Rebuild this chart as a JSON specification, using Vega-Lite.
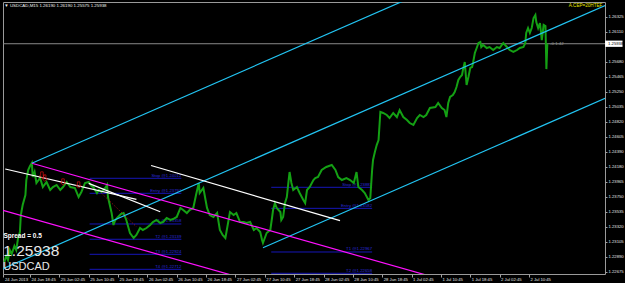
{
  "$schema": "https://vega.github.io/schema/vega-lite/v6.json",
  "width": 602,
  "height": 272,
  "autosize": "none",
  "padding": {"left": 3, "top": 2, "right": 20, "bottom": 9},
  "background": "#000000",
  "config": {
    "view": {"stroke": "#9a9a9a", "strokeWidth": 1},
    "font": "Liberation Sans"
  },
  "resolve": {"axis": {"x": "independent", "y": "independent"}},
  "datasets": {
    "price": [
      {"bar": 4, "price": 1.22814}, {"bar": 6, "price": 1.22900}, {"bar": 8, "price": 1.22842}, {"bar": 10, "price": 1.22985},
      {"bar": 12, "price": 1.22928}, {"bar": 15, "price": 1.23043}, {"bar": 17, "price": 1.22985}, {"bar": 19, "price": 1.23157},
      {"bar": 21, "price": 1.23243}, {"bar": 22, "price": 1.23486}, {"bar": 24, "price": 1.23630}, {"bar": 27, "price": 1.23773},
      {"bar": 28, "price": 1.23987}, {"bar": 30, "price": 1.24131}, {"bar": 32, "price": 1.24188}, {"bar": 34, "price": 1.24231},
      {"bar": 35, "price": 1.24030}, {"bar": 37, "price": 1.24102}, {"bar": 39, "price": 1.23945}, {"bar": 43, "price": 1.24016},
      {"bar": 46, "price": 1.23887}, {"bar": 50, "price": 1.23959}, {"bar": 54, "price": 1.23844}, {"bar": 57, "price": 1.23887},
      {"bar": 61, "price": 1.23916}, {"bar": 65, "price": 1.23844}, {"bar": 68, "price": 1.23887}, {"bar": 72, "price": 1.23959},
      {"bar": 76, "price": 1.23887}, {"bar": 81, "price": 1.23873}, {"bar": 85, "price": 1.23744}, {"bar": 88, "price": 1.23816},
      {"bar": 92, "price": 1.23945}, {"bar": 96, "price": 1.23959}, {"bar": 99, "price": 1.23902}, {"bar": 101, "price": 1.23887},
      {"bar": 105, "price": 1.23801}, {"bar": 107, "price": 1.23844}, {"bar": 110, "price": 1.23816}, {"bar": 114, "price": 1.23873},
      {"bar": 116, "price": 1.23916}, {"bar": 117, "price": 1.23744}, {"bar": 119, "price": 1.23630}, {"bar": 121, "price": 1.23515},
      {"bar": 123, "price": 1.23343}, {"bar": 125, "price": 1.23415}, {"bar": 128, "price": 1.23458}, {"bar": 131, "price": 1.23501},
      {"bar": 134, "price": 1.23515}, {"bar": 137, "price": 1.23415}, {"bar": 141, "price": 1.23229}, {"bar": 145, "price": 1.23157},
      {"bar": 148, "price": 1.23200}, {"bar": 152, "price": 1.23300}, {"bar": 155, "price": 1.23272}, {"bar": 159, "price": 1.23300},
      {"bar": 163, "price": 1.23343}, {"bar": 166, "price": 1.23386}, {"bar": 170, "price": 1.23415}, {"bar": 174, "price": 1.23372},
      {"bar": 177, "price": 1.23386}, {"bar": 181, "price": 1.23444}, {"bar": 185, "price": 1.23415}, {"bar": 188, "price": 1.23429},
      {"bar": 192, "price": 1.23458}, {"bar": 196, "price": 1.23587}, {"bar": 199, "price": 1.23558}, {"bar": 203, "price": 1.23515},
      {"bar": 206, "price": 1.23558}, {"bar": 210, "price": 1.23587}, {"bar": 213, "price": 1.23773}, {"bar": 216, "price": 1.23945},
      {"bar": 217, "price": 1.23801}, {"bar": 221, "price": 1.23873}, {"bar": 225, "price": 1.23587}, {"bar": 228, "price": 1.23486},
      {"bar": 232, "price": 1.23458}, {"bar": 236, "price": 1.23515}, {"bar": 239, "price": 1.23272}, {"bar": 242, "price": 1.23200},
      {"bar": 245, "price": 1.23157}, {"bar": 246, "price": 1.23229}, {"bar": 250, "price": 1.23529}, {"bar": 254, "price": 1.23486},
      {"bar": 257, "price": 1.23515}, {"bar": 261, "price": 1.23386}, {"bar": 265, "price": 1.23386}, {"bar": 268, "price": 1.23372},
      {"bar": 272, "price": 1.23386}, {"bar": 276, "price": 1.23272}, {"bar": 279, "price": 1.23300}, {"bar": 283, "price": 1.23243},
      {"bar": 285, "price": 1.23129}, {"bar": 286, "price": 1.23086}, {"bar": 290, "price": 1.23229}, {"bar": 294, "price": 1.23272},
      {"bar": 296, "price": 1.23458}, {"bar": 297, "price": 1.23558}, {"bar": 299, "price": 1.23658}, {"bar": 301, "price": 1.23587},
      {"bar": 305, "price": 1.23529}, {"bar": 306, "price": 1.23415}, {"bar": 308, "price": 1.23458}, {"bar": 310, "price": 1.23658},
      {"bar": 312, "price": 1.23744}, {"bar": 314, "price": 1.23987}, {"bar": 315, "price": 1.24102}, {"bar": 317, "price": 1.23945},
      {"bar": 319, "price": 1.23844}, {"bar": 323, "price": 1.23887}, {"bar": 326, "price": 1.23801}, {"bar": 330, "price": 1.23701},
      {"bar": 332, "price": 1.23658}, {"bar": 334, "price": 1.23844}, {"bar": 337, "price": 1.23887}, {"bar": 341, "price": 1.23987},
      {"bar": 343, "price": 1.24016}, {"bar": 346, "price": 1.24030}, {"bar": 350, "price": 1.24131}, {"bar": 355, "price": 1.24174},
      {"bar": 361, "price": 1.24202}, {"bar": 365, "price": 1.24131}, {"bar": 368, "price": 1.24030}, {"bar": 372, "price": 1.23987},
      {"bar": 377, "price": 1.24016}, {"bar": 381, "price": 1.23987}, {"bar": 385, "price": 1.23945}, {"bar": 388, "price": 1.24102},
      {"bar": 390, "price": 1.23887}, {"bar": 394, "price": 1.23844}, {"bar": 397, "price": 1.23801}, {"bar": 401, "price": 1.23701},
      {"bar": 403, "price": 1.23730}, {"bar": 405, "price": 1.24131}, {"bar": 406, "price": 1.24274}, {"bar": 408, "price": 1.24388},
      {"bar": 410, "price": 1.24488}, {"bar": 412, "price": 1.24560}, {"bar": 414, "price": 1.24961}, {"bar": 417, "price": 1.24947},
      {"bar": 421, "price": 1.24918}, {"bar": 424, "price": 1.24875}, {"bar": 428, "price": 1.24947}, {"bar": 432, "price": 1.24889},
      {"bar": 435, "price": 1.24989}, {"bar": 439, "price": 1.24889}, {"bar": 443, "price": 1.24846}, {"bar": 446, "price": 1.24803},
      {"bar": 450, "price": 1.24775}, {"bar": 454, "price": 1.24875}, {"bar": 457, "price": 1.24918}, {"bar": 461, "price": 1.24889},
      {"bar": 464, "price": 1.24918}, {"bar": 468, "price": 1.25018}, {"bar": 474, "price": 1.25032}, {"bar": 477, "price": 1.25090},
      {"bar": 481, "price": 1.25018}, {"bar": 484, "price": 1.24989}, {"bar": 486, "price": 1.24889}, {"bar": 488, "price": 1.25090},
      {"bar": 490, "price": 1.25176}, {"bar": 493, "price": 1.25204}, {"bar": 495, "price": 1.25247}, {"bar": 497, "price": 1.25319},
      {"bar": 499, "price": 1.25419}, {"bar": 501, "price": 1.25462}, {"bar": 503, "price": 1.25490}, {"bar": 504, "price": 1.25562},
      {"bar": 506, "price": 1.25677}, {"bar": 508, "price": 1.25347}, {"bar": 510, "price": 1.25462}, {"bar": 512, "price": 1.25591},
      {"bar": 514, "price": 1.25605}, {"bar": 515, "price": 1.25662}, {"bar": 517, "price": 1.25805}, {"bar": 519, "price": 1.25877},
      {"bar": 521, "price": 1.25949}, {"bar": 523, "price": 1.25963}, {"bar": 524, "price": 1.25891}, {"bar": 526, "price": 1.25920},
      {"bar": 530, "price": 1.25877}, {"bar": 533, "price": 1.25891}, {"bar": 537, "price": 1.25848}, {"bar": 541, "price": 1.25891},
      {"bar": 544, "price": 1.25877}, {"bar": 548, "price": 1.25949}, {"bar": 552, "price": 1.25891}, {"bar": 555, "price": 1.25848},
      {"bar": 559, "price": 1.25820}, {"bar": 563, "price": 1.25848}, {"bar": 566, "price": 1.25877}, {"bar": 570, "price": 1.25891},
      {"bar": 572, "price": 1.25949}, {"bar": 573, "price": 1.26092}, {"bar": 575, "price": 1.26163}, {"bar": 577, "price": 1.26092},
      {"bar": 579, "price": 1.26163}, {"bar": 581, "price": 1.26306}, {"bar": 583, "price": 1.26349}, {"bar": 584, "price": 1.26249},
      {"bar": 586, "price": 1.26163}, {"bar": 588, "price": 1.26235}, {"bar": 590, "price": 1.25991}, {"bar": 592, "price": 1.26206},
      {"bar": 594, "price": 1.26190}, {"bar": 595, "price": 1.25575}, {"bar": 596, "price": 1.25938}
    ],
    "segments": [
      {"kind": "channel", "bar": 34, "price": 1.24227, "bar2": 659, "price2": 1.27812},
      {"kind": "channel", "bar": 2.56, "price": 1.22718, "bar2": 659, "price2": 1.26484},
      {"kind": "channel", "bar": 286, "price": 1.23018, "bar2": 659, "price2": 1.25156},
      {"kind": "fan", "bar": 34, "price": 1.24227, "bar2": 468, "price2": 1.22612},
      {"kind": "fan", "bar": 2.56, "price": 1.23552, "bar2": 261, "price2": 1.22592},
      {"kind": "trend", "bar": 5, "price": 1.24145, "bar2": 148, "price2": 1.23711},
      {"kind": "trend", "bar": 96, "price": 1.23940, "bar2": 174, "price2": 1.23534},
      {"kind": "trend", "bar": 164, "price": 1.24195, "bar2": 370, "price2": 1.23405}
    ],
    "signal": [
      {"bar": 110, "price": 1.23797, "bar2": 148, "price2": 1.23319}
    ],
    "levels": [
      {"bar": 97, "bar2": 197, "price": 1.24012, "label": "Stop @1.24012"},
      {"bar": 97, "bar2": 197, "price": 1.23797, "label": "Entry @1.23797"},
      {"bar": 97, "bar2": 197, "price": 1.23358, "label": "T1 @1.23358"},
      {"bar": 97, "bar2": 197, "price": 1.23139, "label": "T2 @1.23139"},
      {"bar": 97, "bar2": 197, "price": 1.22924, "label": "T3 @1.22924"},
      {"bar": 97, "bar2": 197, "price": 1.22709, "label": "T4 @1.22712"},
      {"bar": 295, "bar2": 405, "price": 1.23883, "label": "Stop @1.23883"},
      {"bar": 295, "bar2": 405, "price": 1.23582, "label": "Entry @1.23582"},
      {"bar": 295, "bar2": 405, "price": 1.22957, "label": "T1 @1.22967"},
      {"bar": 295, "bar2": 405, "price": 1.22652, "label": "T2 @1.22658"}
    ],
    "notes": [
      {"role": "header", "bar": 4, "price": 1.26482, "text": "▼ USDCAD,M15  1.26190 1.26190 1.25575 1.25938"},
      {"role": "ea", "bar": 656, "price": 1.26482, "text": "A.CEP=20HTEF"},
      {"role": "timer", "bar": 599, "price": 1.25938, "text": "-0:1:42"},
      {"role": "spread", "bar": 3, "price": 1.23190, "text": "Spread = 0.5"},
      {"role": "big", "bar": 2.8, "price": 1.22971, "text": "1.25938"},
      {"role": "symbol", "bar": 2.8, "price": 1.22742, "text": "USDCAD"}
    ],
    "current": [
      {"bar": 2.56, "bar2": 659, "bar3": 678, "price": 1.25938, "low": 1.25893, "high": 1.25983, "text": "1.25938"}
    ],
    "arrows": [
      {"bar": 45, "price": 1.24059},
      {"bar": 48, "price": 1.24016},
      {"bar": 68, "price": 1.23959},
      {"bar": 85, "price": 1.23916}
    ]
  },
  "layer": [
    {
      "data": {"name": "current"},
      "mark": {"type": "rule", "color": "#8a8a8a", "strokeWidth": 1},
      "encoding": {
        "x": {"field": "bar", "type": "quantitative", "scale": {"domain": [2.56, 658.9], "nice": false, "zero": false}, "axis": null},
        "x2": {"field": "bar2"},
        "y": {"field": "price", "type": "quantitative", "scale": {"domain": [1.22642, 1.265354], "nice": false, "zero": false}, "axis": null}
      }
    },
    {
      "data": {"name": "levels"},
      "mark": {"type": "rule", "color": "#1616b8", "strokeWidth": 1},
      "encoding": {
        "x": {"field": "bar", "type": "quantitative", "scale": {"domain": [2.56, 658.9], "nice": false, "zero": false}, "axis": null},
        "x2": {"field": "bar2"},
        "y": {"field": "price", "type": "quantitative", "scale": {"domain": [1.22642, 1.265354], "nice": false, "zero": false}, "axis": null}
      }
    },
    {
      "data": {"name": "levels"},
      "mark": {"type": "text", "color": "#2a2ad8", "fontSize": 4.3, "align": "right", "baseline": "bottom", "dy": -0.5},
      "encoding": {
        "x": {"field": "bar2", "type": "quantitative", "scale": {"domain": [2.56, 658.9], "nice": false, "zero": false}, "axis": null},
        "y": {"field": "price", "type": "quantitative", "scale": {"domain": [1.22642, 1.265354], "nice": false, "zero": false}, "axis": null},
        "text": {"field": "label"}
      }
    },
    {
      "data": {"name": "price"},
      "mark": {"type": "line", "color": "#14a014", "strokeWidth": 2, "clip": true},
      "encoding": {
        "x": {
          "field": "bar", "type": "quantitative",
          "scale": {"domain": [2.56, 658.9], "nice": false, "zero": false},
          "axis": {
            "orient": "bottom", "title": null, "grid": false, "domain": false,
            "values": [3, 32, 64, 96, 128, 160, 192, 224, 256, 288, 320, 352, 384, 416, 448, 480, 512, 544, 576],
            "labelExpr": "['24 Jun 2013','24 Jun 18:45','25 Jun 02:45','25 Jun 10:45','25 Jun 18:45','26 Jun 02:45','26 Jun 10:45','26 Jun 18:45','27 Jun 02:45','27 Jun 10:45','27 Jun 18:45','28 Jun 02:45','28 Jun 10:45','28 Jun 18:45','1 Jul 02:45','1 Jul 10:45','1 Jul 18:45','2 Jul 02:45','2 Jul 10:45'][round(datum.value/32)]",
            "tickSize": 3, "tickColor": "#a0a0a0", "labelAlign": "left", "labelBaseline": "top",
            "labelOffset": 1, "labelPadding": 0, "labelFontSize": 4.2, "labelColor": "#e6e6e6",
            "labelOverlap": false, "labelFlush": false, "labelBound": false
          }
        },
        "y": {
          "field": "price", "type": "quantitative",
          "scale": {"domain": [1.22642, 1.265354], "nice": false, "zero": false},
          "axis": {
            "orient": "right", "title": null, "grid": false, "domain": false,
            "values": [1.26325, 1.26110, 1.25680, 1.25465, 1.25250, 1.25035, 1.24820, 1.24605, 1.24390, 1.24180, 1.23965, 1.23750, 1.23535, 1.23320, 1.23105, 1.22890, 1.22675],
            "format": ".5f", "tickSize": 2, "tickColor": "#a0a0a0", "labelPadding": 1,
            "labelFontSize": 4.2, "labelColor": "#e6e6e6", "labelBaseline": "middle",
            "labelOverlap": false, "labelFlush": false, "labelBound": false
          }
        }
      }
    },
    {
      "data": {"name": "segments"},
      "mark": {"type": "rule", "strokeWidth": 1.2, "clip": true},
      "encoding": {
        "x": {"field": "bar", "type": "quantitative", "scale": {"domain": [2.56, 658.9], "nice": false, "zero": false}, "axis": null},
        "x2": {"field": "bar2"},
        "y": {"field": "price", "type": "quantitative", "scale": {"domain": [1.22642, 1.265354], "nice": false, "zero": false}, "axis": null},
        "y2": {"field": "price2"},
        "color": {"field": "kind", "type": "nominal", "scale": {"domain": ["channel", "fan", "trend"], "range": ["#22c4f2", "#ff10ff", "#ffffff"]}, "legend": null}
      }
    },
    {
      "data": {"name": "signal"},
      "mark": {"type": "rule", "color": "#c01818", "strokeWidth": 1, "strokeDash": [1, 2]},
      "encoding": {
        "x": {"field": "bar", "type": "quantitative", "scale": {"domain": [2.56, 658.9], "nice": false, "zero": false}, "axis": null},
        "x2": {"field": "bar2"},
        "y": {"field": "price", "type": "quantitative", "scale": {"domain": [1.22642, 1.265354], "nice": false, "zero": false}, "axis": null},
        "y2": {"field": "price2"}
      }
    },
    {
      "data": {"name": "arrows"},
      "mark": {"type": "point", "shape": "M-0.4,-1L0.4,-1L0.4,0.2L0.8,0.2L0,1L-0.8,0.2L-0.4,0.2Z", "size": 40, "filled": false, "color": "#e01010", "strokeWidth": 1},
      "encoding": {
        "x": {"field": "bar", "type": "quantitative", "scale": {"domain": [2.56, 658.9], "nice": false, "zero": false}, "axis": null},
        "y": {"field": "price", "type": "quantitative", "scale": {"domain": [1.22642, 1.265354], "nice": false, "zero": false}, "axis": null}
      }
    },
    {
      "data": {"name": "current"},
      "mark": {"type": "rect", "color": "#ffffff"},
      "encoding": {
        "x": {"field": "bar2", "type": "quantitative", "scale": {"domain": [2.56, 658.9], "nice": false, "zero": false}, "axis": null},
        "x2": {"field": "bar3"},
        "y": {"field": "low", "type": "quantitative", "scale": {"domain": [1.22642, 1.265354], "nice": false, "zero": false}, "axis": null},
        "y2": {"field": "high"}
      }
    },
    {
      "data": {"name": "current"},
      "mark": {"type": "text", "color": "#000000", "fontSize": 4.2, "align": "left", "baseline": "middle", "dx": 3},
      "encoding": {
        "x": {"field": "bar2", "type": "quantitative", "scale": {"domain": [2.56, 658.9], "nice": false, "zero": false}, "axis": null},
        "y": {"field": "price", "type": "quantitative", "scale": {"domain": [1.22642, 1.265354], "nice": false, "zero": false}, "axis": null},
        "text": {"field": "text"}
      }
    },
    {
      "data": {"name": "notes"},
      "transform": [{"filter": "datum.role === 'header'"}],
      "mark": {"type": "text", "color": "#f0f0f0", "fontSize": 4.4, "align": "left", "baseline": "middle"},
      "encoding": {
        "x": {"field": "bar", "type": "quantitative", "scale": {"domain": [2.56, 658.9], "nice": false, "zero": false}, "axis": null},
        "y": {"field": "price", "type": "quantitative", "scale": {"domain": [1.22642, 1.265354], "nice": false, "zero": false}, "axis": null},
        "text": {"field": "text"}
      }
    },
    {
      "data": {"name": "notes"},
      "transform": [{"filter": "datum.role === 'ea'"}],
      "mark": {"type": "text", "color": "#e6e600", "fontSize": 4.6, "align": "right", "baseline": "middle"},
      "encoding": {
        "x": {"field": "bar", "type": "quantitative", "scale": {"domain": [2.56, 658.9], "nice": false, "zero": false}, "axis": null},
        "y": {"field": "price", "type": "quantitative", "scale": {"domain": [1.22642, 1.265354], "nice": false, "zero": false}, "axis": null},
        "text": {"field": "text"}
      }
    },
    {
      "data": {"name": "notes"},
      "transform": [{"filter": "datum.role === 'timer'"}],
      "mark": {"type": "text", "color": "#9a9a9a", "fontSize": 4.4, "align": "left", "baseline": "middle"},
      "encoding": {
        "x": {"field": "bar", "type": "quantitative", "scale": {"domain": [2.56, 658.9], "nice": false, "zero": false}, "axis": null},
        "y": {"field": "price", "type": "quantitative", "scale": {"domain": [1.22642, 1.265354], "nice": false, "zero": false}, "axis": null},
        "text": {"field": "text"}
      }
    },
    {
      "data": {"name": "notes"},
      "transform": [{"filter": "datum.role === 'spread'"}],
      "mark": {"type": "text", "color": "#ffffff", "fontSize": 6.5, "fontWeight": "bold", "align": "left", "baseline": "middle"},
      "encoding": {
        "x": {"field": "bar", "type": "quantitative", "scale": {"domain": [2.56, 658.9], "nice": false, "zero": false}, "axis": null},
        "y": {"field": "price", "type": "quantitative", "scale": {"domain": [1.22642, 1.265354], "nice": false, "zero": false}, "axis": null},
        "text": {"field": "text"}
      }
    },
    {
      "data": {"name": "notes"},
      "transform": [{"filter": "datum.role === 'big'"}],
      "mark": {"type": "text", "color": "#e8e8e8", "fontSize": 15.5, "align": "left", "baseline": "middle"},
      "encoding": {
        "x": {"field": "bar", "type": "quantitative", "scale": {"domain": [2.56, 658.9], "nice": false, "zero": false}, "axis": null},
        "y": {"field": "price", "type": "quantitative", "scale": {"domain": [1.22642, 1.265354], "nice": false, "zero": false}, "axis": null},
        "text": {"field": "text"}
      }
    },
    {
      "data": {"name": "notes"},
      "transform": [{"filter": "datum.role === 'symbol'"}],
      "mark": {"type": "text", "color": "#e8e8e8", "fontSize": 11, "align": "left", "baseline": "middle"},
      "encoding": {
        "x": {"field": "bar", "type": "quantitative", "scale": {"domain": [2.56, 658.9], "nice": false, "zero": false}, "axis": null},
        "y": {"field": "price", "type": "quantitative", "scale": {"domain": [1.22642, 1.265354], "nice": false, "zero": false}, "axis": null},
        "text": {"field": "text"}
      }
    }
  ]
}
